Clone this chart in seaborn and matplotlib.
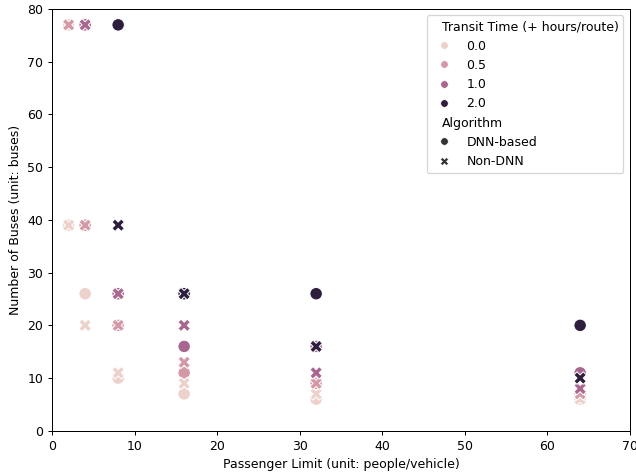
import matplotlib
matplotlib.use("Agg")
import matplotlib.pyplot as plt
import pandas as pd
import seaborn as sns

# DNN-based results: passenger limit, buses needed, extra transit time
dnn_limit = [2, 2, 4, 4, 4, 8, 8, 8, 8, 16, 16, 16, 16, 32, 32, 32, 32, 64, 64, 64, 64]
dnn_buses = [77, 39, 26, 39, 77, 10, 20, 26, 77, 7, 11, 16, 26, 6, 9, 16, 26, 6, 7, 11, 20]
dnn_transit = [0.0, 0.0, 0.0, 0.5, 1.0, 0.0, 0.5, 1.0, 2.0, 0.0, 0.5, 1.0, 2.0,
               0.0, 0.5, 1.0, 2.0, 0.0, 0.5, 1.0, 2.0]

# Non-DNN results
non_limit = [2, 2, 4, 4, 4, 8, 8, 8, 8, 16, 16, 16, 16, 32, 32, 32, 32, 64, 64, 64, 64]
non_buses = [39, 77, 20, 39, 77, 11, 20, 26, 39, 9, 13, 20, 26, 7, 9, 11, 16, 6, 7, 8, 10]
non_transit = [0.0, 0.5, 0.0, 0.5, 1.0, 0.0, 0.5, 1.0, 2.0, 0.0, 0.5, 1.0, 2.0,
               0.0, 0.5, 1.0, 2.0, 0.0, 0.5, 1.0, 2.0]

HUE = "Transit Time (+ hours/route)"
STYLE = "Algorithm"

df = pd.DataFrame({
    "Passenger Limit (unit: people/vehicle)": dnn_limit + non_limit,
    "Number of Buses (unit: buses)": dnn_buses + non_buses,
    HUE: dnn_transit + non_transit,
    STYLE: ["DNN-based"] * len(dnn_limit) + ["Non-DNN"] * len(non_limit),
})

DPI = 90
fig, ax = plt.subplots(figsize=(636 / DPI, 476 / DPI), dpi=DPI)
fig.subplots_adjust(left=0.082, right=0.99, top=0.981, bottom=0.095)

sns.scatterplot(
    data=df,
    x="Passenger Limit (unit: people/vehicle)",
    y="Number of Buses (unit: buses)",
    hue=HUE,
    style=STYLE,
    s=100,
    legend="full",
    ax=ax,
)

ax.set_xlim(0, 70)
ax.set_ylim(0, 80)

leg = ax.legend(loc="upper right")
# smaller legend markers with a thin white edge
for h in leg.legend_handles:
    if hasattr(h, "set_markersize"):
        h.set_markersize(6)
        h.set_markeredgewidth(0.45)
    elif hasattr(h, "set_sizes"):
        h.set_sizes([36])
        h.set_linewidth(0.45)

# section headings sit at the handle column, without a handle gap
for col in leg._legend_handle_box.get_children():
    for row in col.get_children():
        kids = row.get_children()
        if len(kids) == 2 and hasattr(kids[1], "get_text") and kids[1].get_text() in (HUE, STYLE):
            kids[0].width = 0

fig.savefig("out.png", dpi=DPI)
